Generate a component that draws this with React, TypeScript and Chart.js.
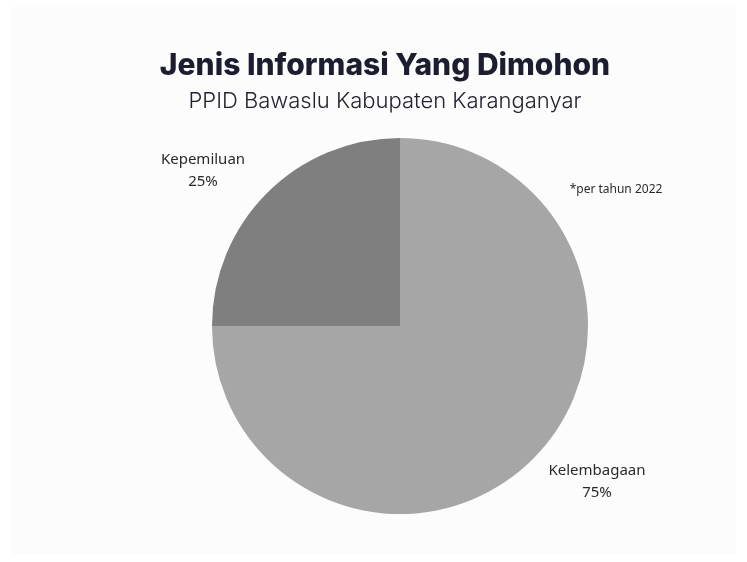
import React, { useEffect, useRef } from "react";
import { Chart, registerables } from "chart.js";

Chart.register(...registerables);

const categories = ["Kelembagaan", "Kepemiluan"];
const values = [75, 25];
const percentLabels = ["75%", "25%"];
const sliceColors = ["#a6a6a6", "#7f7f7f"];
const titleText = "Jenis Informasi Yang Dimohon";
const subtitleText = "PPID Bawaslu Kabupaten Karanganyar";
const noteText = "*per tahun 2022";

const W = 747;
const H = 562;

const textPlugin = {
  id: "textPlugin",
  beforeDraw(chart: any) {
    const ctx = chart.ctx;
    ctx.save();
    ctx.fillStyle = "#ffffff";
    ctx.fillRect(0, 0, W, H);
    ctx.fillStyle = "#fcfcfc";
    ctx.fillRect(11, 7, 725, 548);
    ctx.restore();
  },
  afterDraw(chart: any) {
    const ctx = chart.ctx;
    ctx.save();
    ctx.textAlign = "center";
    ctx.textBaseline = "middle";
    ctx.fillStyle = "#1c1d2e";
    ctx.font = "800 30px Inter, Lato, sans-serif";
    ctx.fillText(titleText, 385, 66);
    ctx.fillStyle = "#222230";
    ctx.font = "300 22px Inter, 'Open Sans', sans-serif";
    ctx.fillText(subtitleText, 385, 101);

    ctx.fillStyle = "#2a2a2a";
    ctx.font = "15px 'Noto Sans', 'Open Sans', sans-serif";
    ctx.fillText(categories[1], 203, 160);
    ctx.fillText(percentLabels[1], 203, 182);
    ctx.fillText(categories[0], 597, 471);
    ctx.fillText(percentLabels[0], 597, 493);
    ctx.font = "12px 'Noto Sans', 'Open Sans', sans-serif";
    ctx.fillText(noteText, 616, 190);
    ctx.restore();
  },
};

export default function App() {
  const ref = useRef<HTMLCanvasElement | null>(null);
  useEffect(() => {
    if (!ref.current) return;
    const chart = new Chart(ref.current, {
      type: "pie",
      data: {
        labels: categories,
        datasets: [
          {
            data: values,
            backgroundColor: sliceColors,
            borderWidth: 0,
          },
        ],
      },
      options: {
        responsive: false,
        animation: false,
        devicePixelRatio: 1,
        layout: {
          padding: { left: 212, right: 159, top: 138, bottom: 48 },
        },
        plugins: {
          legend: { display: false },
          tooltip: { enabled: false },
          title: { display: false },
        },
      },
      plugins: [textPlugin],
    });
    return () => chart.destroy();
  }, []);
  return (
    <div style={{ position: "fixed", left: 0, top: 0, width: W, height: H }}>
      <canvas ref={ref} width={W} height={H} style={{ width: W, height: H, display: "block" }} />
    </div>
  );
}
